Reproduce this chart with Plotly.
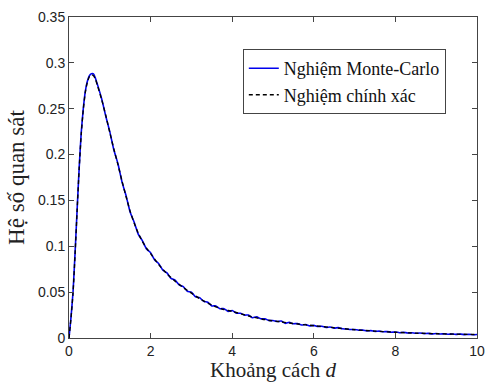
import plotly.graph_objects as go

# Exact solution
exact_d = [0, 0.05, 0.1, 0.15, 0.2, 0.25, 0.3, 0.35, 0.4, 0.45, 0.5, 0.55, 0.6, 0.65, 0.7,
           0.8, 0.9, 1.0, 1.1, 1.2, 1.3, 1.4, 1.5, 1.6, 1.7, 1.8, 1.9, 2.0, 2.2, 2.4, 2.6,
           2.8, 3.0, 3.2, 3.4, 3.6, 3.8, 4.0, 4.4, 4.8, 5.2, 5.6, 6.0, 6.5, 7.0, 7.5, 8.0,
           8.5, 9.0, 9.5, 10.0]
exact_y = [0, 0.022, 0.05, 0.092, 0.14, 0.185, 0.222, 0.249, 0.268, 0.279, 0.285, 0.287,
           0.286, 0.282, 0.275, 0.26, 0.243, 0.224, 0.206, 0.189, 0.171, 0.154, 0.138,
           0.125, 0.114, 0.105, 0.098, 0.092, 0.080, 0.070, 0.062, 0.055, 0.049, 0.043,
           0.038, 0.034, 0.031, 0.029, 0.024, 0.020, 0.0175, 0.0153, 0.0134, 0.0112,
           0.0090, 0.0075, 0.0062, 0.0053, 0.0047, 0.0042, 0.0038]

# Monte-Carlo solution
mc_d = [0.0, 0.05, 0.1, 0.15, 0.2, 0.25, 0.3, 0.35, 0.4, 0.45, 0.5, 0.55, 0.6, 0.65, 0.7, 0.8, 0.9,
        1.0, 1.1, 1.2, 1.3, 1.4, 1.5, 1.6, 1.7, 1.8, 1.9,
        2.0, 2.1, 2.2, 2.3, 2.4, 2.5, 2.6, 2.7, 2.8, 2.9,
        3.0, 3.1, 3.2, 3.3, 3.4, 3.5, 3.6, 3.7, 3.8, 3.9,
        4.0, 4.1, 4.2, 4.3, 4.4, 4.5, 4.6, 4.7, 4.8, 4.9,
        5.0, 5.1, 5.2, 5.3, 5.4, 5.5, 5.6, 5.7, 5.8, 5.9,
        6.0, 6.1, 6.2, 6.3, 6.4, 6.5, 6.6, 6.7, 6.8, 6.9,
        7.0, 7.1, 7.2, 7.3, 7.4, 7.5, 7.6, 7.7, 7.8, 7.9,
        8.0, 8.1, 8.2, 8.3, 8.4, 8.5, 8.6, 8.7, 8.8, 8.9,
        9.0, 9.1, 9.2, 9.3, 9.4, 9.5, 9.6, 9.7, 9.8, 9.9, 10.0]
mc_y = [0, 0.023, 0.051, 0.094, 0.141, 0.186, 0.224, 0.250, 0.269, 0.280, 0.286, 0.288, 0.288,
        0.283, 0.276, 0.261, 0.242,
        0.225, 0.205, 0.190, 0.170, 0.155, 0.137, 0.126, 0.113, 0.106, 0.097,
        0.093, 0.085, 0.081, 0.074, 0.071, 0.065, 0.063, 0.058, 0.056, 0.051,
        0.050, 0.045, 0.044, 0.040, 0.039, 0.035, 0.035, 0.032, 0.032, 0.029,
        0.030, 0.027, 0.027, 0.025, 0.025, 0.022, 0.023, 0.021, 0.021, 0.019,
        0.019, 0.018, 0.0185, 0.016, 0.017, 0.0155, 0.0158, 0.0142, 0.0148, 0.0132,
        0.0138, 0.0125, 0.0128, 0.0115, 0.0120, 0.0108, 0.0113, 0.0100, 0.0098, 0.0092,
        0.0093, 0.0085, 0.0086, 0.0078, 0.0080, 0.0072, 0.0075, 0.0068, 0.0070, 0.0063,
        0.0066, 0.0058, 0.0062, 0.0055, 0.0057, 0.0051, 0.0054, 0.0048, 0.0050, 0.0045,
        0.0049, 0.0043, 0.0046, 0.0041, 0.0044, 0.0039, 0.0042, 0.0037, 0.0040, 0.0035, 0.0038]

x_ticks = [0, 2, 4, 6, 8, 10]
x_tick_labels = ["0", "2", "4", "6", "8", "10"]
y_ticks = [0, 0.05, 0.1, 0.15, 0.2, 0.25, 0.3, 0.35]
y_tick_labels = ["0", "0.05", "0.1", "0.15", "0.2", "0.25", "0.3", "0.35"]

fig = go.Figure()
fig.add_trace(go.Scatter(x=mc_d, y=mc_y, mode="lines", name="Nghiệm Monte-Carlo",
                         line=dict(color="#0000ee", width=1.6, shape="spline", smoothing=0.5)))
fig.add_trace(go.Scatter(x=exact_d, y=exact_y, mode="lines", name="Nghiệm chính xác",
                         line=dict(color="#000000", width=1.4, dash="4px,3px",
                                   shape="spline", smoothing=0.6)))

axis_common = dict(showline=True, linecolor="#444", linewidth=1, mirror="ticks",
                   ticks="inside", ticklen=5, tickcolor="#444", showgrid=False,
                   zeroline=False, automargin=False,
                   tickfont=dict(family="Liberation Sans, Arial", size=14, color="#222"))

fig.update_layout(
    width=488, height=382,
    margin=dict(l=69, r=11, t=17, b=44),
    paper_bgcolor="white", plot_bgcolor="white",
    xaxis=dict(range=[0, 10], tickvals=x_ticks, ticktext=x_tick_labels,
               title=dict(text="Khoảng cách <i>d</i>", standoff=6,
                          font=dict(family="Liberation Serif, Times New Roman", size=21, color="#222")),
               **axis_common),
    yaxis=dict(range=[0, 0.35], tickvals=y_ticks, ticktext=y_tick_labels,
               title=dict(text="Hệ số quan sát", standoff=6,
                          font=dict(family="Liberation Serif, Times New Roman", size=23, color="#222")),
               **axis_common),
    legend=dict(x=0.426, y=0.9, xanchor="left", yanchor="top",
                bgcolor="white", bordercolor="#444", borderwidth=1,
                font=dict(family="Liberation Serif, Times New Roman", size=18, color="#111")),
    showlegend=True,
)

fig.write_html("out.html")
